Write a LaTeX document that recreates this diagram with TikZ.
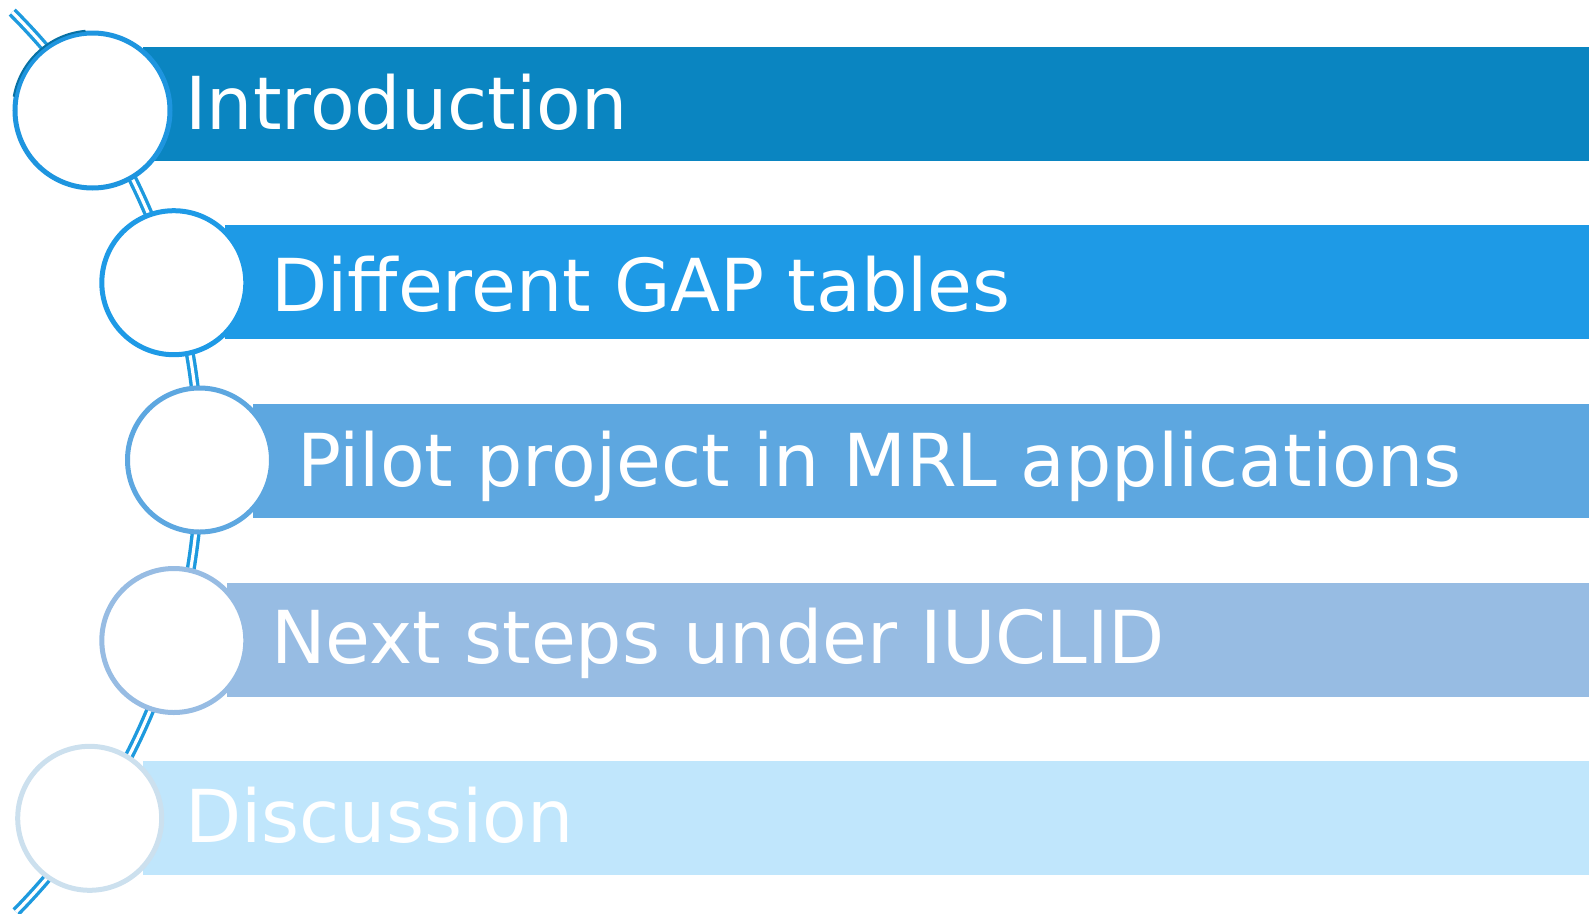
\documentclass[tikz,border=0pt]{standalone}
\usepackage{fontspec}
\setmainfont{DejaVu Sans}
\usetikzlibrary{calc}
\definecolor{barA}{HTML}{0A85C1}
\definecolor{barB}{HTML}{1E9AE6}
\definecolor{barC}{HTML}{5DA7E0}
\definecolor{barD}{HTML}{97BCE3}
\definecolor{barE}{HTML}{C0E6FC}
\definecolor{ringA}{HTML}{1E95DF}
\definecolor{ringB}{HTML}{1E9AE6}
\definecolor{ringC}{HTML}{5DA7E0}
\definecolor{ringD}{HTML}{97BCE3}
\definecolor{ringE}{HTML}{CCE0EE}
\definecolor{spine}{HTML}{1E9ADE}
\tikzset{
  bar/.style={rectangle, inner sep=0pt, minimum height=114pt, anchor=west},
  ring/.style={circle, fill=white, line width=5pt, inner sep=0pt, minimum size=144pt},
  spinel/.style={draw=spine, line width=3.4pt, double=white, double distance=3.2pt, line cap=butt},
  lab/.style={text=white, inner sep=0pt, anchor=base west, font=\fontsize{73}{80}\selectfont},
}
\begin{document}
\begin{tikzpicture}[x=1pt, y=-1pt]
  \useasboundingbox (0,0) rectangle (1589,913);
  \coordinate (hub) at (-439.6,464);

  % bars
  \node[bar, fill=barA, minimum width=1446pt] (bar1) at (143,104) {};
  \node[bar, fill=barB, minimum width=1364pt] (bar2) at (225,282) {};
  \node[bar, fill=barC, minimum width=1336pt] (bar3) at (253,460.5) {};
  \node[bar, fill=barD, minimum width=1362pt] (bar4) at (227,640) {};
  \node[bar, fill=barE, minimum width=1446pt] (bar5) at (143,818) {};

  % spine through the rings
  \coordinate (top) at ($(hub)+(45:639 and -639)$);
  \draw[spinel] (top) arc[start angle=45, end angle=-44.5, x radius=639, y radius=-639];

  % rings
  \node[ring, draw=ringA, minimum size=155pt] (ring1) at (92.5,110.5) {};
  \draw[draw=barA!85!black, line width=2pt] (ring1.center) ++(95:80 and -80) arc[start angle=95, end angle=170, x radius=80, y radius=-80];
  \node[ring, draw=ringB] (ring2) at (173.8,282.7) {};
  \node[ring, draw=ringC] (ring3) at (199.5,460) {};
  \node[ring, draw=ringD] (ring4) at (173.8,640.5) {};
  \node[ring, draw=ringE] (ring5) at (89.7,818.3) {};

  % labels
  \node[lab] (lab1) at (185,129) {Introduction};
  \node[lab] (lab2) at (271,311.7) {Different GAP tables};
  \node[lab] (lab3) at (297,486) {Pilot project in MRL applications};
  \node[lab] (lab4) at (271,663) {Next steps under IUCLID};
  \node[lab] (lab5) at (185,842.7) {Discussion};
\end{tikzpicture}
\end{document}
